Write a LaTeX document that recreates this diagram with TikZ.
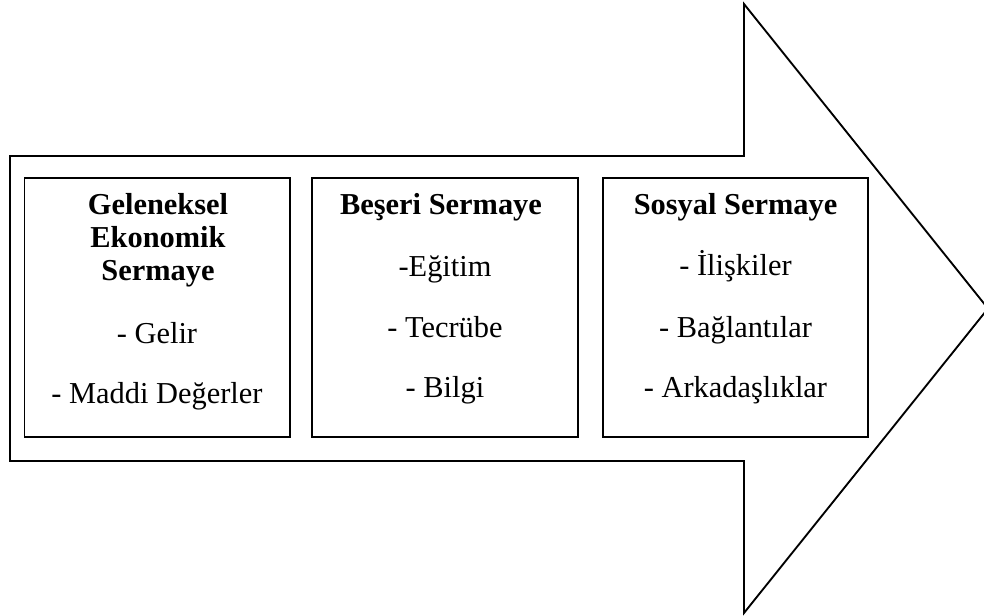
\documentclass[tikz,border=0pt]{standalone}
\usepackage{fontspec}
\setmainfont{Liberation Serif}
\begin{document}
\begin{tikzpicture}[x=0.75pt,y=-0.75pt,
  frame/.style={draw=black,line width=1.4pt},
  box/.style={draw=black,line width=1.4pt,rectangle,minimum width=265.5*0.75pt,minimum height=259*0.75pt,inner sep=0pt},
  txt/.style={anchor=base,inner sep=0pt,font=\fontsize{22.8pt}{24pt}\selectfont},
  hd/.style={txt,font=\fontsize{22.8pt}{24pt}\selectfont\bfseries}]
\useasboundingbox (0,0) rectangle (984,616);
\draw[frame,line join=miter] (10,156) -- (744,156) -- (744,4) -- (988,308.5) -- (744,613) -- (744,461) -- (10,461) -- cycle;
\node[box] (b1) at (157.25,307.5) {};
\node[box] (b2) at (445,307.5) {};
\node[box] (b3) at (735.5,307.5) {};
% box 1
\node[hd] (t1a) at (158,214.5) {Geleneksel};
\node[hd] (t1b) at (158,247.5) {Ekonomik};
\node[hd] (t1c) at (158,280.5) {Sermaye};
\node[txt] (t1d) at (157,344) {- Gelir};
\node[txt] (t1e) at (157,403) {- Maddi Değerler};
% box 2
\node[hd] (t2a) at (441,215) {Beşeri Sermaye};
\node[txt] (t2b) at (445,277) {-Eğitim};
\node[txt] (t2c) at (445,337) {- Tecrübe};
\node[txt] (t2d) at (445,397) {- Bilgi};
% box 3
\node[hd] (t3a) at (735.5,215) {Sosyal Sermaye};
\node[txt] (t3b) at (735.5,276) {- İlişkiler};
\node[txt] (t3c) at (735.5,337) {- Bağlantılar};
\node[txt] (t3d) at (735.5,397) {- Arkadaşlıklar};
\end{tikzpicture}
\end{document}
